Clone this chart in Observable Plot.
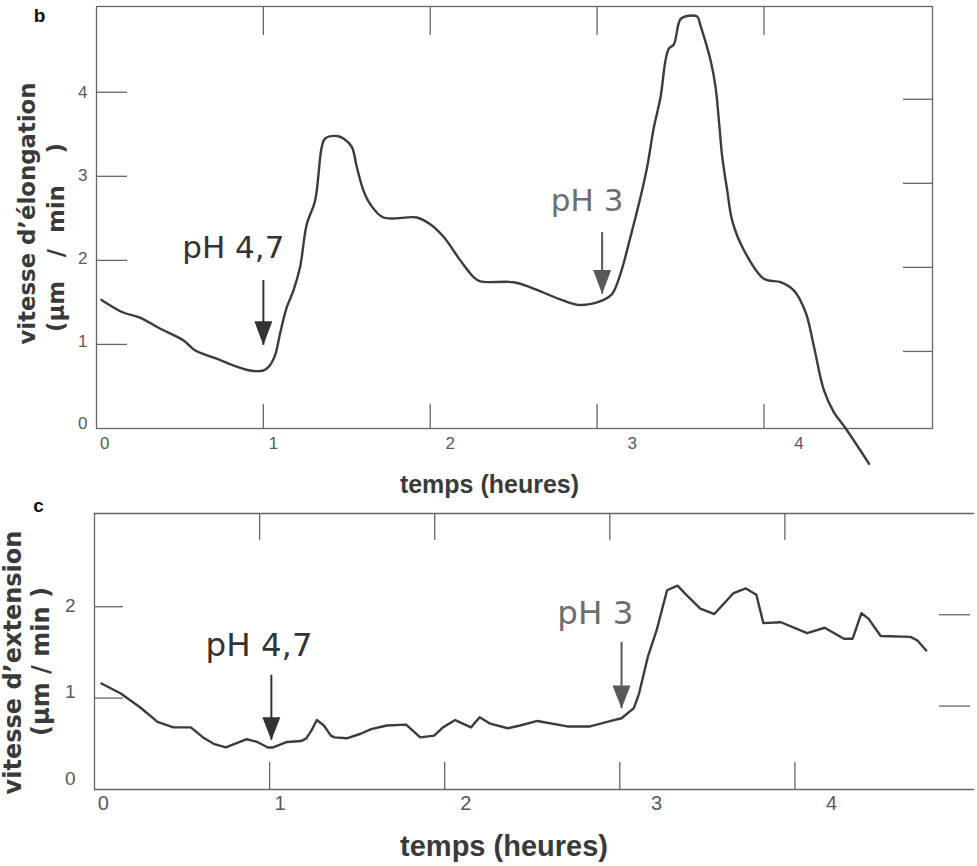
<!DOCTYPE html>
<html>
<head>
<meta charset="utf-8">
<script src="https://cdn.jsdelivr.net/npm/d3@7"></script>
<script src="https://cdn.jsdelivr.net/npm/@observablehq/plot@0.6"></script>
<style>
  html, body { margin: 0; padding: 0; background: white; }
  #chart svg { display: block; }
</style>
</head>
<body>
<div id="chart"></div>
<script>
// ---------- Panel b data (time in hours, elongation speed in µm/min) ----------
const hoursB = [0.03,0.16,0.26,0.38,0.52,0.59,0.72,0.82,0.92,1.0,1.03,1.07,1.1,1.14,1.18,1.22,1.26,1.31,1.35,1.37,1.44,1.48,1.53,1.56,1.6,1.64,1.72,1.92,2.0,2.08,2.18,2.26,2.3,2.5,2.6,2.8,2.9,3.04,3.09,3.14,3.2,3.26,3.3,3.34,3.38,3.41,3.43,3.46,3.5,3.55,3.6,3.62,3.68,3.71,3.73,3.75,3.78,3.81,3.88,4.0,4.1,4.18,4.25,4.3,4.36,4.42,4.49,4.63];
const speedB = [1.53,1.38,1.32,1.19,1.05,0.93,0.83,0.75,0.69,0.69,0.73,0.87,1.13,1.44,1.64,1.92,2.43,2.71,3.35,3.45,3.48,3.45,3.35,3.11,2.83,2.67,2.51,2.51,2.43,2.28,2.0,1.8,1.75,1.74,1.68,1.52,1.47,1.53,1.6,1.84,2.28,2.75,3.11,3.58,3.94,4.38,4.52,4.57,4.87,4.91,4.9,4.79,4.38,4.06,3.66,3.23,2.83,2.47,2.12,1.78,1.74,1.64,1.38,0.97,0.45,0.19,0.0,-0.42];

// ---------- Panel c data (time in hours, extension speed in µm/min) ----------
const hoursC = [0.04,0.15,0.26,0.36,0.45,0.55,0.62,0.68,0.75,0.79,0.87,0.93,0.99,1.02,1.1,1.18,1.21,1.24,1.27,1.31,1.35,1.37,1.44,1.52,1.58,1.67,1.78,1.86,1.94,1.99,2.06,2.15,2.2,2.26,2.36,2.43,2.53,2.7,2.83,2.95,3.01,3.08,3.11,3.16,3.21,3.27,3.33,3.38,3.46,3.54,3.65,3.72,3.78,3.82,3.92,4.07,4.17,4.28,4.33,4.38,4.42,4.49,4.66,4.7,4.75];
const speedC = [1.16,1.05,0.9,0.74,0.68,0.68,0.57,0.5,0.46,0.49,0.55,0.52,0.46,0.46,0.52,0.53,0.56,0.65,0.76,0.7,0.59,0.57,0.56,0.61,0.66,0.7,0.71,0.57,0.59,0.68,0.76,0.68,0.79,0.72,0.67,0.7,0.75,0.69,0.69,0.75,0.78,0.89,1.05,1.45,1.74,2.18,2.23,2.13,1.98,1.92,2.15,2.2,2.13,1.82,1.83,1.71,1.77,1.65,1.65,1.93,1.87,1.68,1.67,1.63,1.52];

// ---------- Axes: tick values and tick labels ----------
const xTicks = [1, 2, 3, 4];
const xTickLabels = ["0", "1", "2", "3", "4"];
const xTickLabelPos = [0.05, 1.06, 2.12, 3.21, 4.21];

const yTicksB = [1, 2, 3, 4];
const yTickLabelsB = ["0", "1", "2", "3", "4"];
const yTickLabelPosB = [0.06, 1.03, 2.02, 3.01, 4.0];

const yTicksC = [1, 2];
const yTickLabelsC = ["0", "1", "2"];
const yTickLabelPosC = [0.12, 1.07, 2.01];

// ---------- Annotations (pH changes) ----------
const annLabels = ["pH 4,7", "pH 3"];
const annXB = [0.82, 2.94];
const annYB = [2.15, 2.71];
const arrowXB = [1.0, 3.03];
const arrowTopB = [1.76, 2.33];
const arrowTipB = [0.99, 1.6];

const annXC = [0.94, 2.86];
const annYC = [1.57, 1.93];
const arrowXC = [1.01, 3.01];
const arrowTopC = [1.25, 1.61];
const arrowTipC = [0.54, 0.885];

// ---------- Texts ----------
const panelB = "b", panelC = "c";
const xTitle = "temps (heures)";
const yTitleB1 = "vitesse d’élongation";
const yTitleB2 = "(µm\u00a0\u00a0\u00a0/\u00a0\u00a0min\u00a0\u00a0\u00a0\u00a0)";
const yTitleC1 = "vitesse d’extension";
const yTitleC2 = "(µm / min )";

// ---------- Styles ----------
const annTextColors = ["#333333", "#6e6e6e"];
const annArrowColors = ["#333333", "#585858"];
const lineColor = "#3c3c3c";
const axisColor = "#666666";
const tickTextColor = "#5a5a5a";
const titleColor = "#3a3a3a";
const titleFont = "'DejaVu Sans', sans-serif";

function arrowHead(w, h) {
  return { draw(ctx) { ctx.moveTo(0, 0); ctx.lineTo(-w / 2, -h); ctx.lineTo(w / 2, -h); ctx.closePath(); } };
}

const idx = [0, 1];
const dataB = hoursB.map((h, i) => ({h, v: speedB[i]}));
const dataC = hoursC.map((h, i) => ({h, v: speedC[i]}));

const chartB = Plot.plot({
  width: 977, height: 500,
  marginLeft: 96, marginRight: 45, marginTop: 6, marginBottom: 72,
  x: {domain: [0, 5.01]},
  y: {domain: [0, 5.02]},
  color: {type: "identity"},
  style: {fontFamily: "'Liberation Sans', Arial, sans-serif", background: "white", color: axisColor, overflow: "visible"},
  marks: [
    Plot.frame({stroke: axisColor, strokeWidth: 1.3}),
    Plot.axisX(xTicks, {anchor: "bottom", tickSize: -24, tickFormat: () => "", label: null, stroke: axisColor, strokeWidth: 1.3}),
    Plot.axisX(xTicks, {anchor: "top", tickSize: -28, tickFormat: () => "", label: null, stroke: axisColor, strokeWidth: 1.3}),
    Plot.axisY(yTicksB, {anchor: "left", tickSize: -31, tickFormat: () => "", label: null, stroke: axisColor, strokeWidth: 1.3}),
    Plot.axisY(yTicksB, {anchor: "right", tickSize: -30, dy: 7, tickFormat: () => "", label: null, stroke: axisColor, strokeWidth: 1.3}),
    Plot.text(xTickLabels, {x: (d, i) => xTickLabelPos[i], text: d => d, frameAnchor: "bottom", lineAnchor: "middle", textAnchor: "middle", dy: 15, fontSize: 17, fill: tickTextColor}),
    Plot.text(yTickLabelsB, {y: (d, i) => yTickLabelPosB[i], text: d => d, frameAnchor: "left", textAnchor: "end", lineAnchor: "middle", dx: -9, fontSize: 17, fill: tickTextColor}),
    Plot.line(dataB, {x: "h", y: "v", curve: "catmull-rom", stroke: lineColor, strokeWidth: 2.4, strokeLinejoin: "round"}),
    Plot.ruleX(idx, {x: i => arrowXB[i], y1: i => arrowTopB[i], y2: i => arrowTipB[i], stroke: i => annArrowColors[i], strokeWidth: 2}),
    Plot.dot(idx, {x: i => arrowXB[i], y: i => arrowTipB[i], r: 5, symbol: arrowHead(18, 24), fill: i => annArrowColors[i], stroke: null}),
    Plot.text(idx, {x: i => annXB[i], y: i => annYB[i], text: i => annLabels[i], fill: i => annTextColors[i], fontSize: 31, fontFamily: "'DejaVu Sans', sans-serif"}),
    Plot.text([panelB], {frameAnchor: "top-left", textAnchor: "middle", lineAnchor: "middle", dx: -57, dy: 9, fontSize: 19, fontWeight: "bold", fill: "#111"}),
    Plot.text([yTitleB1], {frameAnchor: "left", textAnchor: "middle", lineAnchor: "middle", rotate: -90, dx: -69, dy: -4, fontFamily: titleFont, fontWeight: "bold", fontSize: 22.8, fill: titleColor}),
    Plot.text([yTitleB2], {frameAnchor: "left", textAnchor: "middle", lineAnchor: "middle", rotate: -90, dx: -40, dy: 20, fontFamily: titleFont, fontWeight: "bold", fontSize: 22.8, fill: titleColor}),
    Plot.text([xTitle], {frameAnchor: "bottom", textAnchor: "middle", lineAnchor: "middle", dx: -25, dy: 56, fontWeight: "bold", fontSize: 25, fill: titleColor})
  ]
});

const chartC = Plot.plot({
  width: 977, height: 366,
  marginLeft: 94, marginRight: 4, marginTop: 13, marginBottom: 77,
  x: {domain: [0, 5.02]},
  y: {domain: [0, 3.02]},
  color: {type: "identity"},
  style: {fontFamily: "'Liberation Sans', Arial, sans-serif", background: "transparent", color: axisColor, overflow: "visible"},
  marks: [
    Plot.frame({anchor: "top", stroke: axisColor, strokeWidth: 1.3}),
    Plot.frame({anchor: "bottom", stroke: axisColor, strokeWidth: 1.3}),
    Plot.frame({anchor: "left", stroke: axisColor, strokeWidth: 1.3}),
    Plot.axisX(xTicks, {anchor: "bottom", tickSize: -27, tickFormat: () => "", label: null, stroke: axisColor, strokeWidth: 1.3}),
    Plot.axisX(xTicks, {anchor: "top", tickSize: -26, dx: -10, tickFormat: () => "", label: null, stroke: axisColor, strokeWidth: 1.3}),
    Plot.axisY(yTicksC, {anchor: "left", tickSize: -29, tickFormat: () => "", label: null, stroke: axisColor, strokeWidth: 1.3}),
    Plot.axisY(yTicksC, {anchor: "right", tickSize: -31, dx: -4, dy: 8, tickFormat: () => "", label: null, stroke: axisColor, strokeWidth: 1.3}),
    Plot.text(xTickLabels, {x: (d, i) => xTickLabelPos[i], text: d => d, frameAnchor: "bottom", lineAnchor: "middle", textAnchor: "middle", dy: 14, fontSize: 20, fill: tickTextColor}),
    Plot.text(yTickLabelsC, {y: (d, i) => yTickLabelPosC[i], text: d => d, frameAnchor: "left", textAnchor: "end", lineAnchor: "middle", dx: -19, fontSize: 19, fill: tickTextColor}),
    Plot.line(dataC, {x: "h", y: "v", stroke: lineColor, strokeWidth: 2.4, strokeLinejoin: "round"}),
    Plot.ruleX(idx, {x: i => arrowXC[i], y1: i => arrowTopC[i], y2: i => arrowTipC[i], stroke: i => annArrowColors[i], strokeWidth: 2}),
    Plot.dot(idx, {x: i => arrowXC[i], y: i => arrowTipC[i], r: 5, symbol: arrowHead(18, 23), fill: i => annArrowColors[i], stroke: null}),
    Plot.text(idx, {x: i => annXC[i], y: i => annYC[i], text: i => annLabels[i], fill: i => annTextColors[i], fontSize: 32.5, fontFamily: "'DejaVu Sans', sans-serif"}),
    Plot.text([panelC], {frameAnchor: "top-left", textAnchor: "middle", lineAnchor: "middle", dx: -56, dy: -8, fontSize: 19, fontWeight: "bold", fill: "#111"}),
    Plot.text([yTitleC1], {frameAnchor: "left", textAnchor: "middle", lineAnchor: "middle", rotate: -90, dx: -81, dy: 11, fontFamily: titleFont, fontWeight: "bold", fontSize: 24, fill: titleColor}),
    Plot.text([yTitleC2], {frameAnchor: "left", textAnchor: "middle", lineAnchor: "middle", rotate: -90, dx: -53, dy: 10, fontFamily: titleFont, fontWeight: "bold", fontSize: 24, fill: titleColor}),
    Plot.text([xTitle], {frameAnchor: "bottom", textAnchor: "middle", lineAnchor: "middle", dx: -30, dy: 57, fontWeight: "bold", fontSize: 29, fill: titleColor})
  ]
});

const root = document.getElementById("chart");
root.appendChild(chartB);
root.appendChild(chartC);
</script>
</body>
</html>
